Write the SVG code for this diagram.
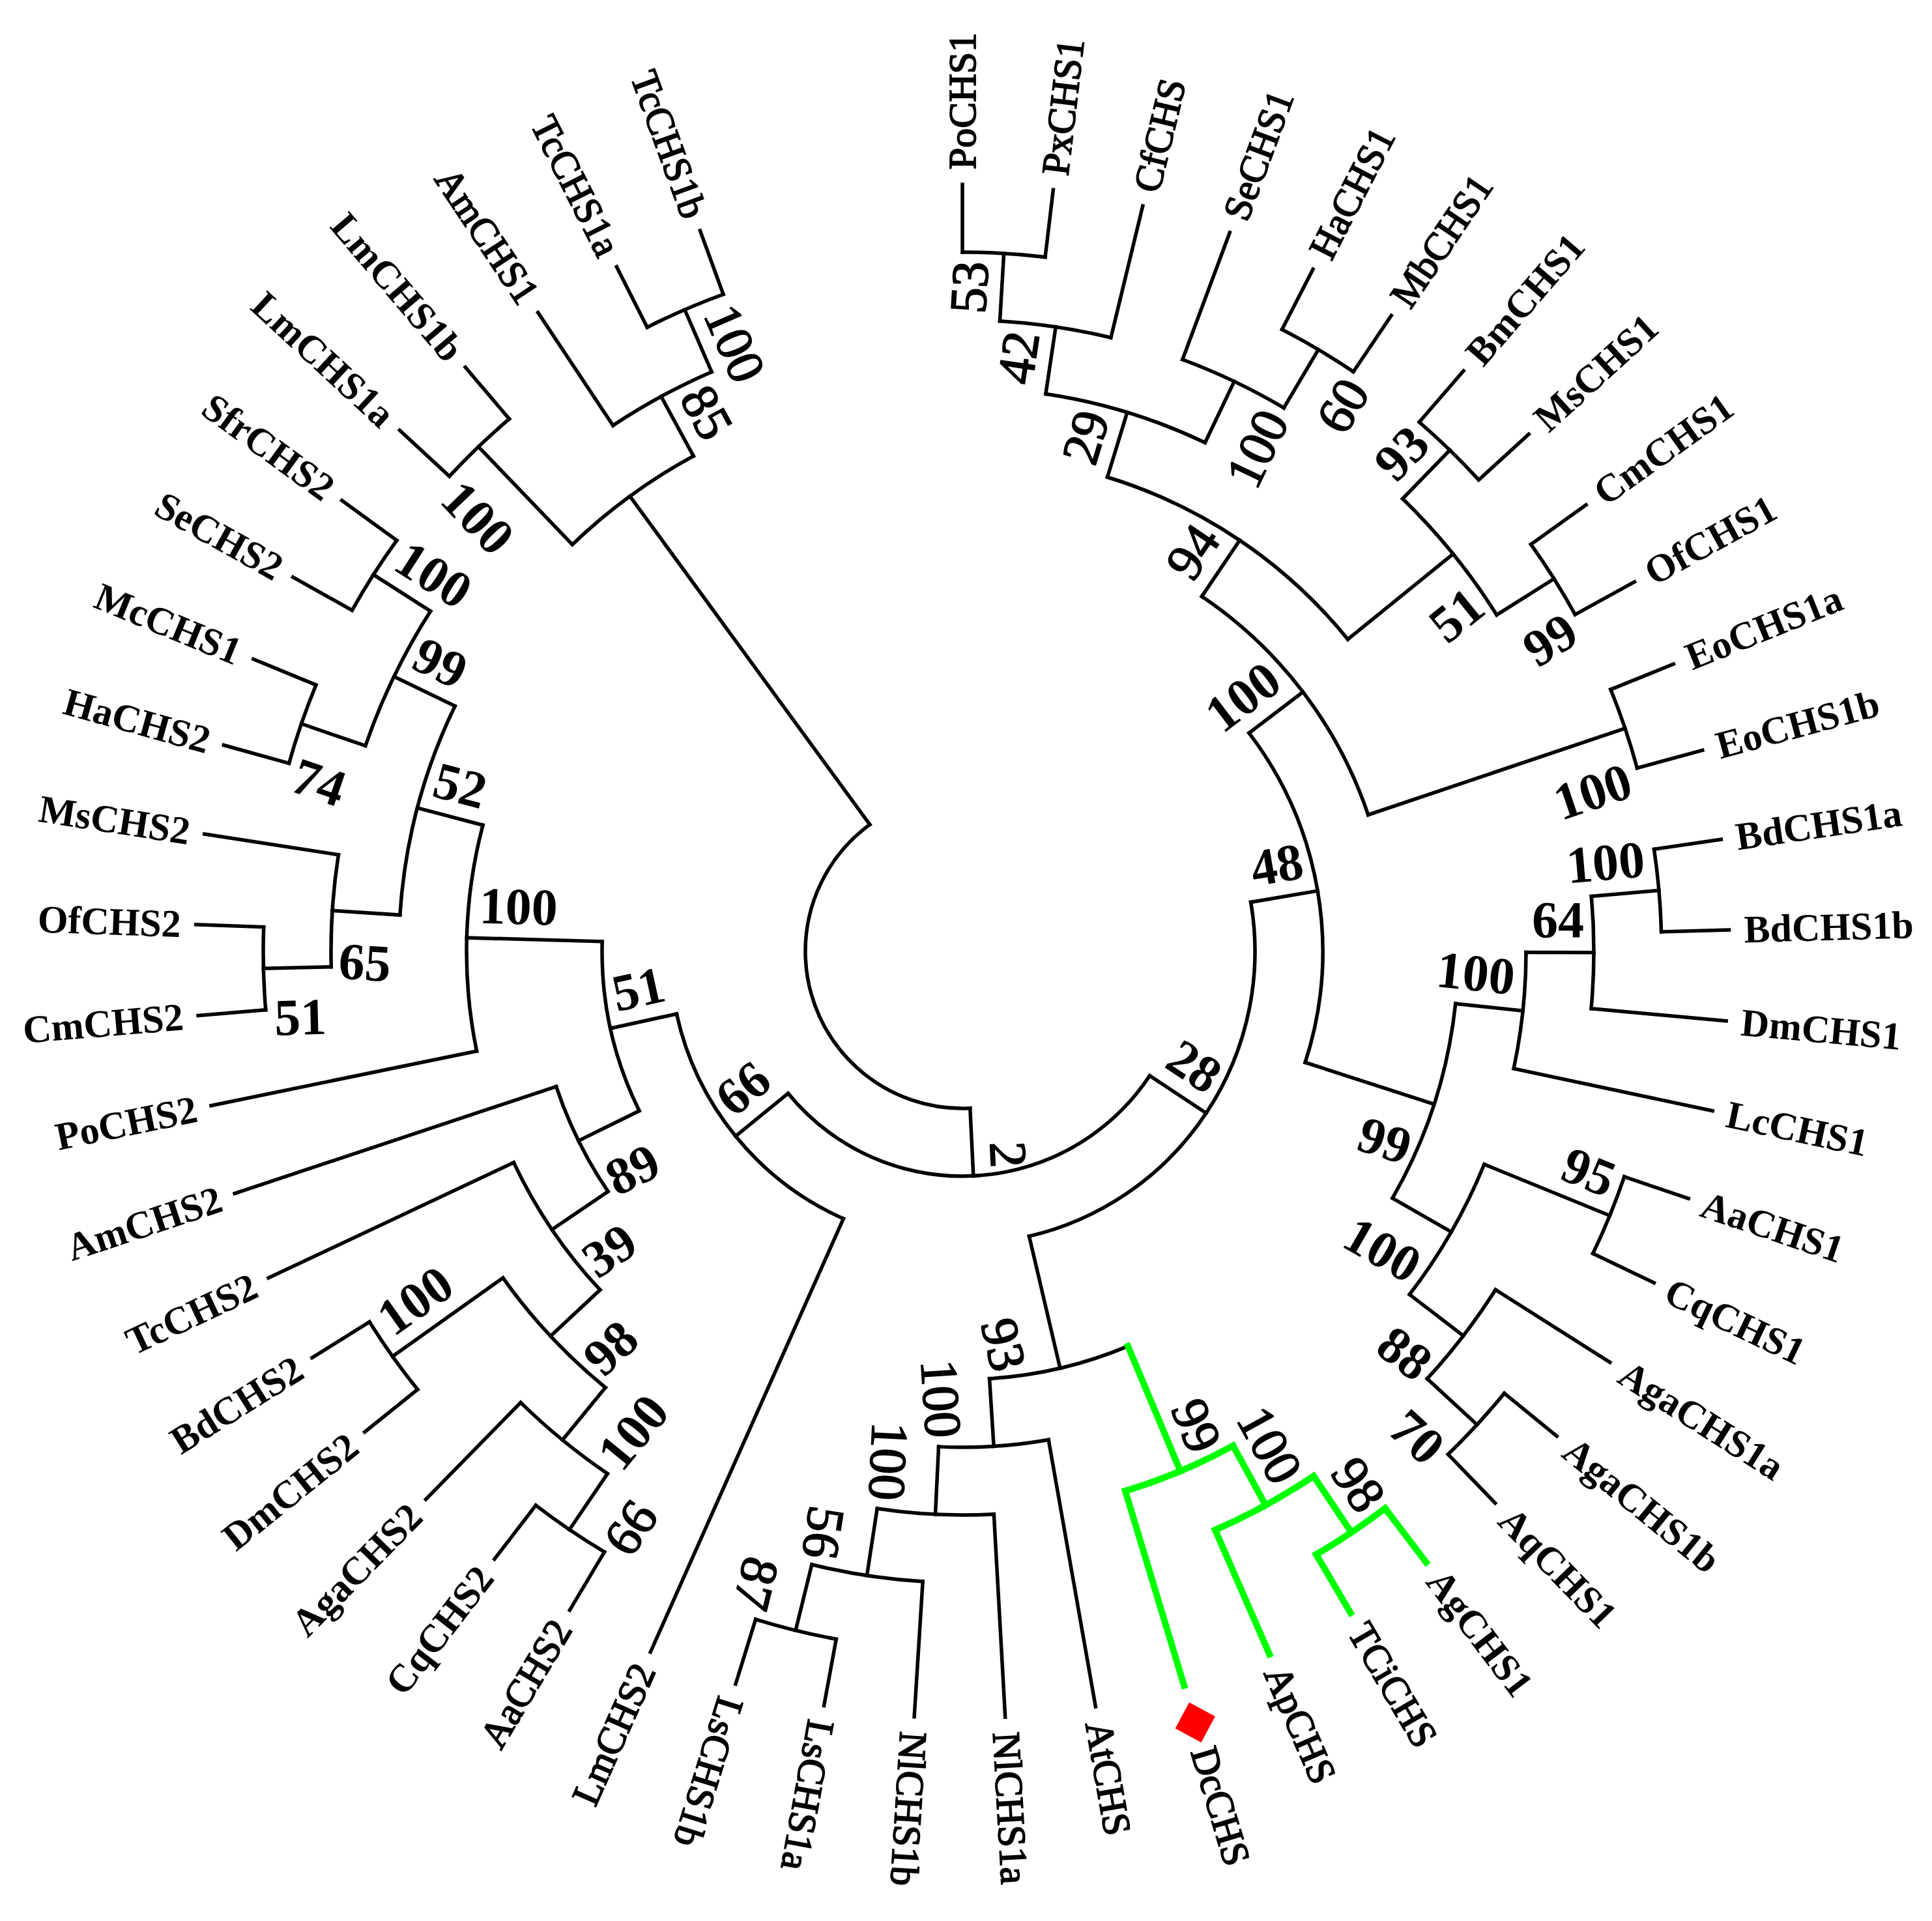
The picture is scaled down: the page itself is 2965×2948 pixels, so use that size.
<svg xmlns="http://www.w3.org/2000/svg" width="2965" height="2948" viewBox="0 0 2965 2948">
<style>
.b{stroke:#000;stroke-width:5.5;fill:none;stroke-linecap:square}
.g{stroke:#00ff00;stroke-width:10;fill:none;stroke-linecap:square}
text{font-family:"Liberation Serif","Times New Roman",serif;fill:#000;dominant-baseline:central;font-weight:bold}
.l{font-size:60px}
.e{text-anchor:end}
.s{font-size:80px;text-anchor:middle}
.n{font-weight:normal;stroke:#000;stroke-width:1.8px}
</style>
<rect width="2965" height="2948" fill="#fff"/>
<g transform="translate(1477,1460)">
<g id="connectors">
<circle class="b" r="1073" pathLength="360" stroke-dasharray="6.8 720" transform="rotate(-90)"/>
<circle class="b" r="969" pathLength="360" stroke-dasharray="10.2 720" transform="rotate(-86.6)"/>
<circle class="b" r="1073" pathLength="360" stroke-dasharray="6.8 720" transform="rotate(-62.8)"/>
<circle class="b" r="969" pathLength="360" stroke-dasharray="10.2 720" transform="rotate(-69.6)"/>
<circle class="b" r="865" pathLength="360" stroke-dasharray="17 720" transform="rotate(-81.5)"/>
<circle class="b" r="1073" pathLength="360" stroke-dasharray="6.8 720" transform="rotate(-49.2)"/>
<circle class="b" r="1073" pathLength="360" stroke-dasharray="6.8 720" transform="rotate(-35.6)"/>
<circle class="b" r="969" pathLength="360" stroke-dasharray="13.6 720" transform="rotate(-45.8)"/>
<circle class="b" r="761" pathLength="360" stroke-dasharray="34 720" transform="rotate(-73)"/>
<circle class="b" r="1073" pathLength="360" stroke-dasharray="6.8 720" transform="rotate(-22)"/>
<circle class="b" r="657" pathLength="360" stroke-dasharray="37.4 720" transform="rotate(-56)"/>
<circle class="b" r="1073" pathLength="360" stroke-dasharray="6.8 720" transform="rotate(-8.4)"/>
<circle class="b" r="969" pathLength="360" stroke-dasharray="10.2 720" transform="rotate(-5)"/>
<circle class="b" r="865" pathLength="360" stroke-dasharray="11.9 720" transform="rotate(0.1)"/>
<circle class="b" r="1073" pathLength="360" stroke-dasharray="6.8 720" transform="rotate(18.8)"/>
<circle class="b" r="1073" pathLength="360" stroke-dasharray="6.8 720" transform="rotate(39.2)"/>
<circle class="b" r="969" pathLength="360" stroke-dasharray="10.2 720" transform="rotate(32.4)"/>
<circle class="b" r="865" pathLength="360" stroke-dasharray="15.3 720" transform="rotate(22.2)"/>
<circle class="b" r="761" pathLength="360" stroke-dasharray="23.8 720" transform="rotate(6.05)"/>
<circle class="b" r="553" pathLength="360" stroke-dasharray="55.25 720" transform="rotate(-37.3)"/>
<circle class="b" r="1073" pathLength="360" stroke-dasharray="6.8 720" transform="rotate(100.4)"/>
<circle class="b" r="969" pathLength="360" stroke-dasharray="10.2 720" transform="rotate(93.6)"/>
<circle class="b" r="865" pathLength="360" stroke-dasharray="11.9 720" transform="rotate(86.8)"/>
<circle class="b" r="761" pathLength="360" stroke-dasharray="12.75 720" transform="rotate(80)"/>
<circle class="b" r="657" pathLength="360" stroke-dasharray="19.125 720" transform="rotate(67.25)"/>
<circle class="b" r="449" pathLength="360" stroke-dasharray="86.485 720" transform="rotate(-9.675)"/>
<circle class="b" r="1073" pathLength="360" stroke-dasharray="6.8 720" transform="rotate(120.8)"/>
<circle class="b" r="969" pathLength="360" stroke-dasharray="10.2 720" transform="rotate(124.2)"/>
<circle class="b" r="1073" pathLength="360" stroke-dasharray="6.8 720" transform="rotate(141.2)"/>
<circle class="b" r="865" pathLength="360" stroke-dasharray="15.3 720" transform="rotate(129.3)"/>
<circle class="b" r="761" pathLength="360" stroke-dasharray="17.85 720" transform="rotate(136.95)"/>
<circle class="b" r="657" pathLength="360" stroke-dasharray="15.725 720" transform="rotate(145.875)"/>
<circle class="b" r="1073" pathLength="360" stroke-dasharray="6.8 720" transform="rotate(175.2)"/>
<circle class="b" r="969" pathLength="360" stroke-dasharray="10.2 720" transform="rotate(178.6)"/>
<circle class="b" r="1073" pathLength="360" stroke-dasharray="6.8 720" transform="rotate(195.6)"/>
<circle class="b" r="1073" pathLength="360" stroke-dasharray="6.8 720" transform="rotate(209.2)"/>
<circle class="b" r="969" pathLength="360" stroke-dasharray="13.6 720" transform="rotate(199)"/>
<circle class="b" r="865" pathLength="360" stroke-dasharray="22.1 720" transform="rotate(183.7)"/>
<circle class="b" r="761" pathLength="360" stroke-dasharray="26.35 720" transform="rotate(168.4)"/>
<circle class="b" r="553" pathLength="360" stroke-dasharray="27.835 720" transform="rotate(153.74)"/>
<circle class="b" r="449" pathLength="360" stroke-dasharray="53.66 720" transform="rotate(114)"/>
<circle class="b" r="345" pathLength="360" stroke-dasharray="107.26 720" transform="rotate(33.57)"/>
<circle class="b" r="1073" pathLength="360" stroke-dasharray="6.8 720" transform="rotate(222.8)"/>
<circle class="b" r="1073" pathLength="360" stroke-dasharray="6.8 720" transform="rotate(243.2)"/>
<circle class="b" r="969" pathLength="360" stroke-dasharray="10.2 720" transform="rotate(236.4)"/>
<circle class="b" r="865" pathLength="360" stroke-dasharray="15.3 720" transform="rotate(226.2)"/>
<circle class="b" r="241" pathLength="360" stroke-dasharray="146.65 720" transform="rotate(87.2)"/>
<line class="b" x1="1073" x2="1177" transform="rotate(-90)"/>
<line class="b" x1="1073" x2="1177" transform="rotate(-83.2)"/>
<line class="b" x1="969" x2="1177" transform="rotate(-76.4)"/>
<line class="b" x1="969" x2="1177" transform="rotate(-69.6)"/>
<line class="b" x1="1073" x2="1177" transform="rotate(-62.8)"/>
<line class="b" x1="1073" x2="1177" transform="rotate(-56)"/>
<line class="b" x1="1073" x2="1177" transform="rotate(-49.2)"/>
<line class="b" x1="1073" x2="1177" transform="rotate(-42.4)"/>
<line class="b" x1="1073" x2="1177" transform="rotate(-35.6)"/>
<line class="b" x1="1073" x2="1177" transform="rotate(-28.8)"/>
<line class="b" x1="1073" x2="1177" transform="rotate(-22)"/>
<line class="b" x1="1073" x2="1177" transform="rotate(-15.2)"/>
<line class="b" x1="1073" x2="1177" transform="rotate(-8.4)"/>
<line class="b" x1="1073" x2="1177" transform="rotate(-1.6)"/>
<line class="b" x1="969" x2="1177" transform="rotate(5.2)"/>
<line class="b" x1="865" x2="1177" transform="rotate(12)"/>
<line class="b" x1="1073" x2="1177" transform="rotate(18.8)"/>
<line class="b" x1="1073" x2="1177" transform="rotate(25.6)"/>
<line class="b" x1="969" x2="1177" transform="rotate(32.4)"/>
<line class="b" x1="1073" x2="1177" transform="rotate(39.2)"/>
<line class="b" x1="1073" x2="1177" transform="rotate(46)"/>
<line class="b" x1="761" x2="1177" transform="rotate(80)"/>
<line class="b" x1="865" x2="1177" transform="rotate(86.8)"/>
<line class="b" x1="969" x2="1177" transform="rotate(93.6)"/>
<line class="b" x1="1073" x2="1177" transform="rotate(100.4)"/>
<line class="b" x1="1073" x2="1177" transform="rotate(107.2)"/>
<line class="b" x1="449" x2="1177" transform="rotate(114)"/>
<line class="b" x1="1073" x2="1177" transform="rotate(120.8)"/>
<line class="b" x1="1073" x2="1177" transform="rotate(127.6)"/>
<line class="b" x1="969" x2="1177" transform="rotate(134.4)"/>
<line class="b" x1="1073" x2="1177" transform="rotate(141.2)"/>
<line class="b" x1="1073" x2="1177" transform="rotate(148)"/>
<line class="b" x1="761" x2="1177" transform="rotate(154.8)"/>
<line class="b" x1="657" x2="1177" transform="rotate(161.6)"/>
<line class="b" x1="761" x2="1177" transform="rotate(168.4)"/>
<line class="b" x1="1073" x2="1177" transform="rotate(175.2)"/>
<line class="b" x1="1073" x2="1177" transform="rotate(182)"/>
<line class="b" x1="969" x2="1177" transform="rotate(188.8)"/>
<line class="b" x1="1073" x2="1177" transform="rotate(195.6)"/>
<line class="b" x1="1073" x2="1177" transform="rotate(202.4)"/>
<line class="b" x1="1073" x2="1177" transform="rotate(209.2)"/>
<line class="b" x1="1073" x2="1177" transform="rotate(216)"/>
<line class="b" x1="1073" x2="1177" transform="rotate(222.8)"/>
<line class="b" x1="1073" x2="1177" transform="rotate(229.6)"/>
<line class="b" x1="969" x2="1177" transform="rotate(236.4)"/>
<line class="b" x1="1073" x2="1177" transform="rotate(243.2)"/>
<line class="b" x1="1073" x2="1177" transform="rotate(250)"/>
<line class="b" x1="969" x2="1073" transform="rotate(-86.6)"/>
<line class="b" x1="865" x2="969" transform="rotate(-81.5)"/>
<line class="b" x1="969" x2="1073" transform="rotate(-59.4)"/>
<line class="b" x1="865" x2="969" transform="rotate(-64.5)"/>
<line class="b" x1="761" x2="865" transform="rotate(-73)"/>
<line class="b" x1="969" x2="1073" transform="rotate(-45.8)"/>
<line class="b" x1="969" x2="1073" transform="rotate(-32.2)"/>
<line class="b" x1="761" x2="969" transform="rotate(-39)"/>
<line class="b" x1="657" x2="761" transform="rotate(-56)"/>
<line class="b" x1="657" x2="1073" transform="rotate(-18.6)"/>
<line class="b" x1="553" x2="657" transform="rotate(-37.3)"/>
<line class="b" x1="969" x2="1073" transform="rotate(-5)"/>
<line class="b" x1="865" x2="969" transform="rotate(0.1)"/>
<line class="b" x1="761" x2="865" transform="rotate(6.05)"/>
<line class="b" x1="865" x2="1073" transform="rotate(22.2)"/>
<line class="b" x1="969" x2="1073" transform="rotate(42.6)"/>
<line class="b" x1="865" x2="969" transform="rotate(37.5)"/>
<line class="b" x1="761" x2="865" transform="rotate(29.85)"/>
<line class="b" x1="553" x2="761" transform="rotate(17.95)"/>
<line class="b" x1="449" x2="553" transform="rotate(-9.675)"/>
<line class="b" x1="969" x2="1073" transform="rotate(103.8)"/>
<line class="b" x1="865" x2="969" transform="rotate(98.7)"/>
<line class="b" x1="761" x2="865" transform="rotate(92.75)"/>
<line class="b" x1="657" x2="761" transform="rotate(86.375)"/>
<line class="b" x1="449" x2="657" transform="rotate(76.81)"/>
<line class="b" x1="345" x2="449" transform="rotate(33.57)"/>
<line class="b" x1="969" x2="1073" transform="rotate(124.2)"/>
<line class="b" x1="865" x2="969" transform="rotate(129.3)"/>
<line class="b" x1="865" x2="1073" transform="rotate(144.6)"/>
<line class="b" x1="761" x2="865" transform="rotate(136.95)"/>
<line class="b" x1="657" x2="761" transform="rotate(145.875)"/>
<line class="b" x1="553" x2="657" transform="rotate(153.74)"/>
<line class="b" x1="969" x2="1073" transform="rotate(178.6)"/>
<line class="b" x1="865" x2="969" transform="rotate(183.7)"/>
<line class="b" x1="969" x2="1073" transform="rotate(199)"/>
<line class="b" x1="969" x2="1073" transform="rotate(212.6)"/>
<line class="b" x1="865" x2="969" transform="rotate(205.8)"/>
<line class="b" x1="761" x2="865" transform="rotate(194.75)"/>
<line class="b" x1="553" x2="761" transform="rotate(181.575)"/>
<line class="b" x1="449" x2="553" transform="rotate(167.66)"/>
<line class="b" x1="345" x2="449" transform="rotate(140.83)"/>
<line class="b" x1="241" x2="345" transform="rotate(87.2)"/>
<line class="b" x1="865" x2="1073" transform="rotate(226.2)"/>
<line class="b" x1="969" x2="1073" transform="rotate(246.6)"/>
<line class="b" x1="865" x2="969" transform="rotate(241.5)"/>
<line class="b" x1="241" x2="865" transform="rotate(233.85)"/>
<circle class="g" r="1073" pathLength="360" stroke-dasharray="6.8 720" transform="rotate(52.8)"/>
<circle class="g" r="969" pathLength="360" stroke-dasharray="10.2 720" transform="rotate(56.2)"/>
<circle class="g" r="865" pathLength="360" stroke-dasharray="11.9 720" transform="rotate(61.3)"/>
<line class="g" x1="1073" x2="1177" transform="rotate(52.8)"/>
<line class="g" x1="1073" x2="1177" transform="rotate(59.6)"/>
<line class="g" x1="969" x2="1177" transform="rotate(66.4)"/>
<line class="g" x1="865" x2="1177" transform="rotate(73.2)"/>
<line class="g" x1="969" x2="1073" transform="rotate(56.2)"/>
<line class="g" x1="865" x2="969" transform="rotate(61.3)"/>
<line class="g" x1="657" x2="865" transform="rotate(67.25)"/>
</g>
<g id="leaves">
<g id="PoCHS1"><text class="l n" transform="rotate(-90) translate(1200,0)">PoCHS1</text></g>
<g id="PxCHS1"><text class="l n" transform="rotate(-83.2) translate(1200,0)">PxCHS1</text></g>
<g id="CfCHS"><text class="l n" transform="rotate(-76.4) translate(1200,0)">CfCHS</text></g>
<g id="SeCHS1"><text class="l n" transform="rotate(-69.6) translate(1200,0)">SeCHS1</text></g>
<g id="HaCHS1"><text class="l n" transform="rotate(-62.8) translate(1200,0)">HaCHS1</text></g>
<g id="MbCHS1"><text class="l n" transform="rotate(-56) translate(1200,0)">MbCHS1</text></g>
<g id="BmCHS1"><text class="l" transform="rotate(-49.2) translate(1200,0)">BmCHS1</text></g>
<g id="MsCHS1"><text class="l" transform="rotate(-42.4) translate(1200,0)">MsCHS1</text></g>
<g id="CmCHS1"><text class="l" transform="rotate(-35.6) translate(1200,0)">CmCHS1</text></g>
<g id="OfCHS1"><text class="l" transform="rotate(-28.8) translate(1200,0)">OfCHS1</text></g>
<g id="EoCHS1a"><text class="l" transform="rotate(-22) translate(1200,0)">EoCHS1a</text></g>
<g id="EoCHS1b"><text class="l" transform="rotate(-15.2) translate(1200,0)">EoCHS1b</text></g>
<g id="BdCHS1a"><text class="l" transform="rotate(-8.4) translate(1200,0)">BdCHS1a</text></g>
<g id="BdCHS1b"><text class="l" transform="rotate(-1.6) translate(1200,0)">BdCHS1b</text></g>
<g id="DmCHS1"><text class="l" transform="rotate(5.2) translate(1200,0)">DmCHS1</text></g>
<g id="LcCHS1"><text class="l" transform="rotate(12) translate(1200,0)">LcCHS1</text></g>
<g id="AaCHS1"><text class="l" transform="rotate(18.8) translate(1200,0)">AaCHS1</text></g>
<g id="CqCHS1"><text class="l" transform="rotate(25.6) translate(1200,0)">CqCHS1</text></g>
<g id="AgaCHS1a"><text class="l" transform="rotate(32.4) translate(1200,0)">AgaCHS1a</text></g>
<g id="AgaCHS1b"><text class="l" transform="rotate(39.2) translate(1200,0)">AgaCHS1b</text></g>
<g id="AqCHS1"><text class="l" transform="rotate(46) translate(1200,0)">AqCHS1</text></g>
<g id="AgCHS1"><text class="l" transform="rotate(52.8) translate(1200,0)">AgCHS1</text></g>
<g id="TCiCHS"><text class="l n" transform="rotate(59.6) translate(1200,0)">TCiCHS</text></g>
<g id="ApCHS"><text class="l n" transform="rotate(66.4) translate(1200,0)">ApCHS</text></g>
<g id="DcCHS"><polygon points="1204,0 1236,-32 1268,0 1236,32" fill="#ff0000" transform="rotate(73.2)"/><text class="l n" transform="rotate(73.2) translate(1277,0)">DcCHS</text></g>
<g id="AtCHS"><text class="l n" transform="rotate(80) translate(1200,0)">AtCHS</text></g>
<g id="NlCHS1a"><text class="l n" transform="rotate(86.8) translate(1200,0)">NlCHS1a</text></g>
<g id="NlCHS1b"><text class="l n" transform="rotate(93.6) translate(1200,0)">NlCHS1b</text></g>
<g id="LsCHS1a"><text class="l n" transform="rotate(100.4) translate(1200,0)">LsCHS1a</text></g>
<g id="LsCHS1b"><text class="l n" transform="rotate(107.2) translate(1200,0)">LsCHS1b</text></g>
<g id="LmCHS2"><text class="l n e" transform="rotate(294) translate(-1200,0)">LmCHS2</text></g>
<g id="AaCHS2"><text class="l n e" transform="rotate(300.8) translate(-1200,0)">AaCHS2</text></g>
<g id="CqCHS2"><text class="l e" transform="rotate(307.6) translate(-1200,0)">CqCHS2</text></g>
<g id="AgaCHS2"><text class="l e" transform="rotate(314.4) translate(-1200,0)">AgaCHS2</text></g>
<g id="DmCHS2"><text class="l e" transform="rotate(321.2) translate(-1200,0)">DmCHS2</text></g>
<g id="BdCHS2"><text class="l e" transform="rotate(328) translate(-1200,0)">BdCHS2</text></g>
<g id="TcCHS2"><text class="l e" transform="rotate(334.8) translate(-1200,0)">TcCHS2</text></g>
<g id="AmCHS2"><text class="l e" transform="rotate(341.6) translate(-1200,0)">AmCHS2</text></g>
<g id="PoCHS2"><text class="l e" transform="rotate(348.4) translate(-1200,0)">PoCHS2</text></g>
<g id="CmCHS2"><text class="l e" transform="rotate(355.2) translate(-1200,0)">CmCHS2</text></g>
<g id="OfCHS2"><text class="l e" transform="rotate(2) translate(-1200,0)">OfCHS2</text></g>
<g id="MsCHS2"><text class="l e" transform="rotate(8.8) translate(-1200,0)">MsCHS2</text></g>
<g id="HaCHS2"><text class="l e" transform="rotate(15.6) translate(-1200,0)">HaCHS2</text></g>
<g id="McCHS1"><text class="l e" transform="rotate(22.4) translate(-1200,0)">McCHS1</text></g>
<g id="SeCHS2"><text class="l e" transform="rotate(29.2) translate(-1200,0)">SeCHS2</text></g>
<g id="SfrCHS2"><text class="l e" transform="rotate(36) translate(-1200,0)">SfrCHS2</text></g>
<g id="LmCHS1a"><text class="l e" transform="rotate(42.8) translate(-1200,0)">LmCHS1a</text></g>
<g id="LmCHS1b"><text class="l e" transform="rotate(49.6) translate(-1200,0)">LmCHS1b</text></g>
<g id="AmCHS1"><text class="l n e" transform="rotate(56.4) translate(-1200,0)">AmCHS1</text></g>
<g id="TcCHS1a"><text class="l n e" transform="rotate(63.2) translate(-1200,0)">TcCHS1a</text></g>
<g id="TcCHS1b"><text class="l n e" transform="rotate(70) translate(-1200,0)">TcCHS1b</text></g>
</g>
<g id="support">
<g id="n53"><text class="s n" transform="rotate(-86.6) translate(1018,-50)">53</text></g>
<g id="n42"><text class="s n" transform="rotate(-81.5) translate(914,-50)">42</text></g>
<g id="n60"><text class="s n" transform="rotate(-59.4) translate(1018,76)">60</text></g>
<g id="n100a"><text class="s n" transform="rotate(-64.5) translate(891,76)">100</text></g>
<g id="n29"><text class="s n" transform="rotate(-73) translate(810,-50)">29</text></g>
<g id="n93a"><text class="s" transform="rotate(-45.8) translate(1018,-50)">93</text></g>
<g id="n99a"><text class="s" transform="rotate(-32.2) translate(1018,76)">99</text></g>
<g id="n51a"><text class="s" transform="rotate(-39) translate(914,76)">51</text></g>
<g id="n94"><text class="s n" transform="rotate(-56) translate(706,-50)">94</text></g>
<g id="n100b"><text class="s" transform="rotate(-18.6) translate(995,76)">100</text></g>
<g id="n100c"><text class="s" transform="rotate(-37.3) translate(579,-50)">100</text></g>
<g id="n100d"><text class="s" transform="rotate(-5) translate(995,-50)">100</text></g>
<g id="n64"><text class="s" transform="rotate(0.1) translate(914,-50)">64</text></g>
<g id="n100e"><text class="s" transform="rotate(6.05) translate(787,-50)">100</text></g>
<g id="n95"><text class="s" transform="rotate(22.2) translate(1018,-50)">95</text></g>
<g id="n70"><text class="s" transform="rotate(42.6) translate(1018,76)">70</text></g>
<g id="n88"><text class="s" transform="rotate(37.5) translate(914,76)">88</text></g>
<g id="n100f"><text class="s" transform="rotate(29.85) translate(787,76)">100</text></g>
<g id="n99b"><text class="s" transform="rotate(17.95) translate(706,76)">99</text></g>
<g id="n48"><text class="s" transform="rotate(-9.675) translate(498,-50)">48</text></g>
<g id="n28"><text class="s" transform="rotate(33.57) translate(394,-50)">28</text></g>
<g id="n2"><text class="s n" transform="rotate(87.2) translate(315,-55)">2</text></g>
<g id="n98"><text class="s n" transform="rotate(56.2) translate(1018,-50)">98</text></g>
<g id="n100g"><text class="s n" transform="rotate(61.3) translate(891,-50)">100</text></g>
<g id="n99c"><text class="s n" transform="rotate(67.25) translate(810,-50)">99</text></g>
<g id="n93b"><text class="s n" transform="rotate(76.81) translate(602,76)">93</text></g>
<g id="n100j"><text class="s n" transform="rotate(86.375) translate(683,76)">100</text></g>
<g id="n100i"><text class="s n" transform="rotate(92.75) translate(787,76)">100</text></g>
<g id="n56"><text class="s n" transform="rotate(98.7) translate(914,76)">56</text></g>
<g id="n87"><text class="s n" transform="rotate(103.8) translate(1018,76)">87</text></g>
<g id="n66a"><text class="s n" transform="rotate(124.2) translate(1018,-76) rotate(180)">66</text></g>
<g id="n100m"><text class="s" transform="rotate(129.3) translate(891,-76) rotate(180)">100</text></g>
<g id="n100n"><text class="s" transform="rotate(144.6) translate(995,50) rotate(180)">100</text></g>
<g id="n98b"><text class="s" transform="rotate(136.95) translate(810,-76) rotate(180)">98</text></g>
<g id="n39"><text class="s" transform="rotate(145.875) translate(706,-76) rotate(180)">39</text></g>
<g id="n89"><text class="s" transform="rotate(153.74) translate(602,-76) rotate(180)">89</text></g>
<g id="n51b"><text class="s" transform="rotate(178.6) translate(1018,-76) rotate(180)">51</text></g>
<g id="n65"><text class="s" transform="rotate(183.7) translate(914,-76) rotate(180)">65</text></g>
<g id="n74"><text class="s" transform="rotate(199) translate(1018,-76) rotate(180)">74</text></g>
<g id="n100k"><text class="s" transform="rotate(212.6) translate(995,50) rotate(180)">100</text></g>
<g id="n99d"><text class="s" transform="rotate(205.8) translate(914,50) rotate(180)">99</text></g>
<g id="n52"><text class="s" transform="rotate(194.75) translate(810,50) rotate(180)">52</text></g>
<g id="n100l"><text class="s" transform="rotate(181.575) translate(683,50) rotate(180)">100</text></g>
<g id="n51c"><text class="s" transform="rotate(167.66) translate(498,50) rotate(180)">51</text></g>
<g id="n66b"><text class="s" transform="rotate(140.83) translate(394,50) rotate(180)">66</text></g>
<g id="n100p"><text class="s" transform="rotate(226.2) translate(995,-76) rotate(180)">100</text></g>
<g id="n85"><text class="s n" transform="rotate(241.5) translate(914,50) rotate(180)">85</text></g>
<g id="n100o"><text class="s n" transform="rotate(246.6) translate(995,50) rotate(180)">100</text></g>
</g>
</g>
</svg>
